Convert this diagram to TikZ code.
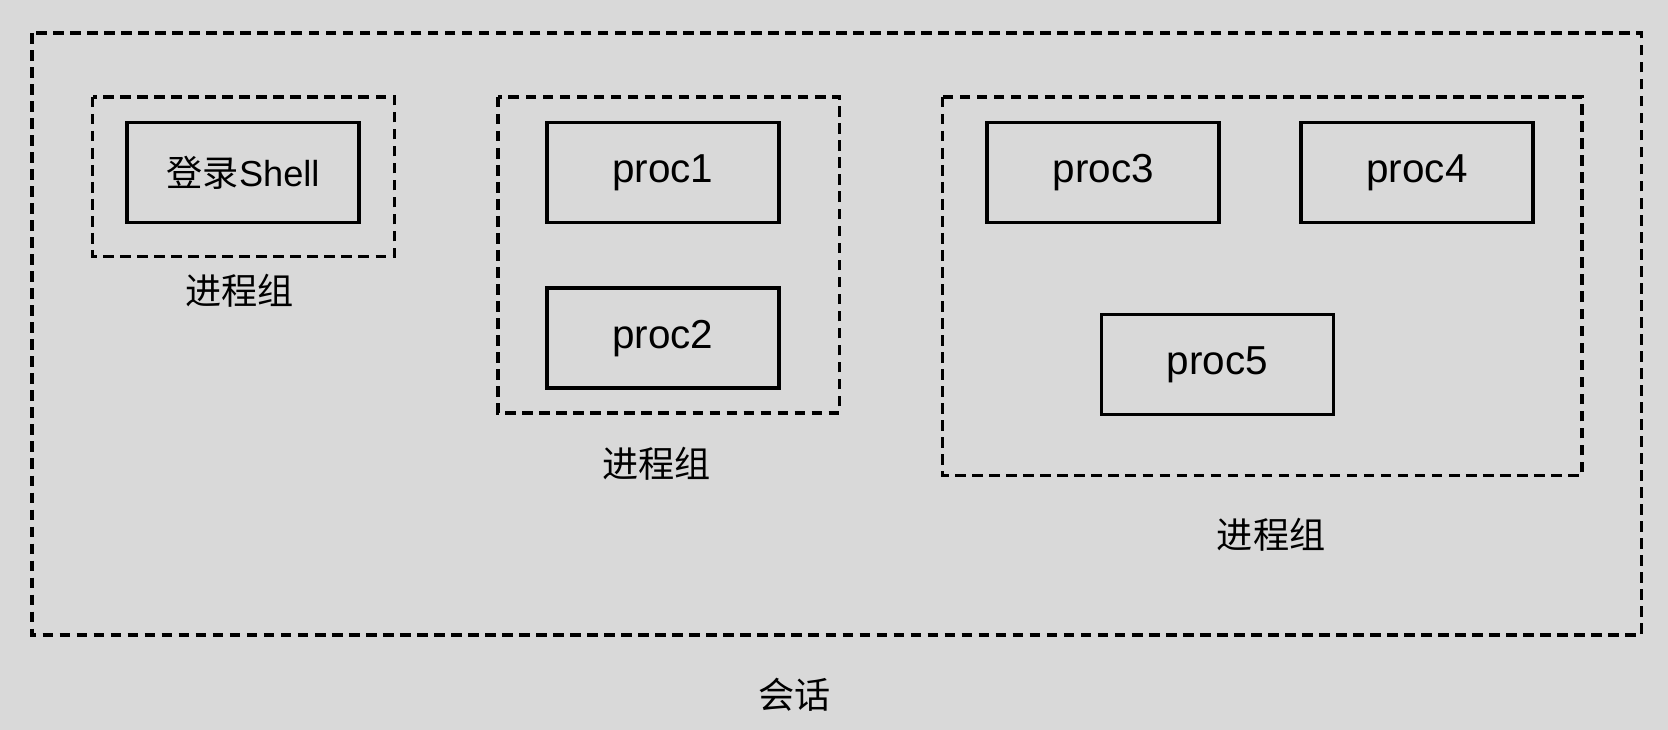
\documentclass[tikz,border=0pt]{standalone}
\usepackage{fontspec}
\setmainfont{Liberation Sans}
\newfontfamily\cjk{Noto Sans CJK SC}
\begin{document}
\begin{tikzpicture}[x=0.5pt,y=-0.5pt,
  proc/.style={draw=black,line width=1.7pt,minimum width=109pt,minimum height=47pt,inner sep=0pt,font=\fontsize{19}{22}\selectfont},
  grp/.style={draw=black,line width=1.7pt,dash pattern=on 5pt off 3pt},
  lbl/.style={font=\cjk\fontsize{17}{20}\selectfont,inner sep=0pt}]
\fill[fill={rgb,255:red,217;green,217;blue,217}] (0,0) rectangle (1568,686);
\useasboundingbox (0,0) rectangle (1568,686);
\draw[grp] (30,31) rectangle (1543,597);
\draw[grp] (87,91) rectangle (371,241);
\draw[grp] (468,91) rectangle (789,388);
\draw[grp] (886,91) rectangle (1487,447);
\node[proc,font=\fontsize{17}{20}\selectfont] (shell) at (228.5,162) {{\cjk 登录}Shell};
\node[proc] (p1) at (623,162) {proc1};
\node[proc] (p2) at (623,318) {proc2};
\node[proc] (p3) at (1037,162) {proc3};
\node[proc] (p4) at (1332,162) {proc4};
\node[proc] (p5) at (1144.5,342.5) {proc5};
\node[lbl] (g1) at (225,273) {进程组};
\node[lbl] (g2) at (617,436) {进程组};
\node[lbl] (g3) at (1195,503) {进程组};
\node[lbl] (s) at (747,653) {会话};
\end{tikzpicture}
\end{document}
